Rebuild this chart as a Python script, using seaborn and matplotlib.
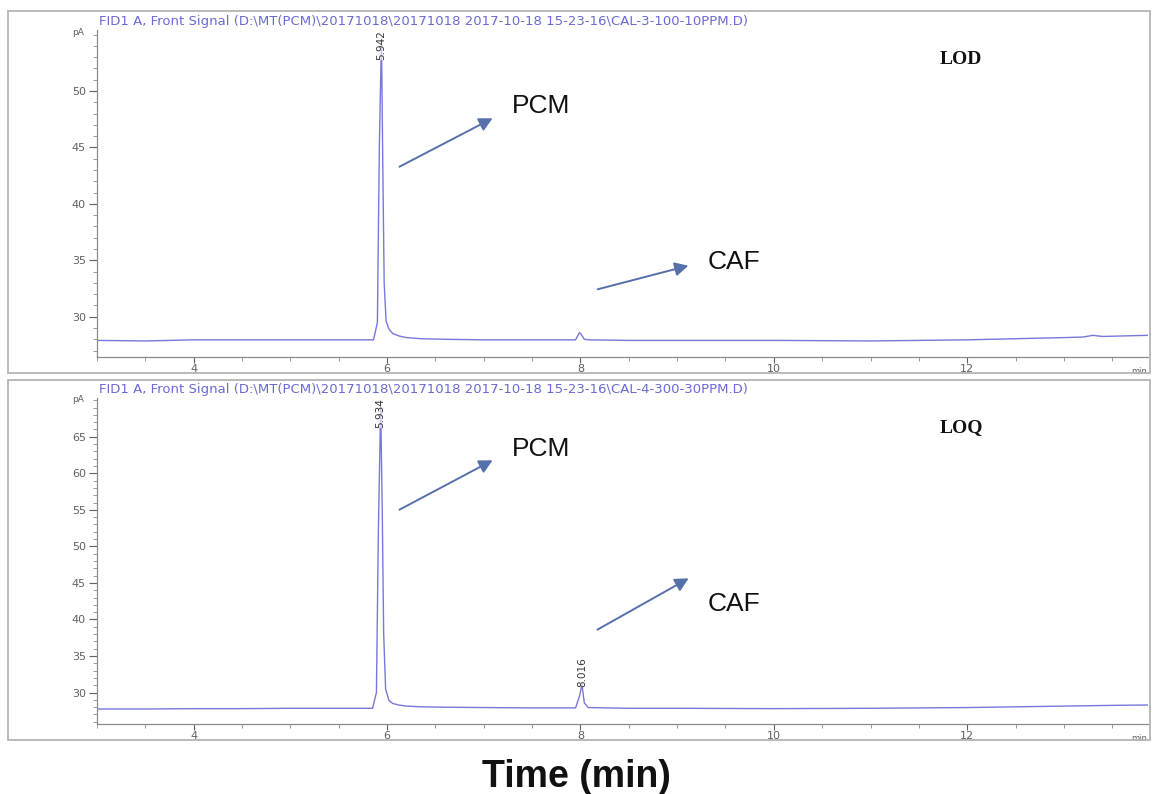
import matplotlib
matplotlib.use("Agg")
import matplotlib.pyplot as plt
from matplotlib.patches import Rectangle, FancyArrowPatch
from matplotlib.ticker import MultipleLocator
import seaborn as sns
import pandas as pd

sns.set_style("white")
plt.rcParams['font.family'] = ['Liberation Sans', 'DejaVu Sans']

# ---------------- data ----------------
lod_time = [3.0, 3.5, 4.0, 4.5, 5.0, 5.5, 5.86, 5.90, 5.92, 5.942, 5.955, 5.97, 5.99,
            6.02, 6.06, 6.12, 6.2, 6.35, 6.6, 7.0, 7.5, 7.95, 7.99, 8.01, 8.04, 8.08,
            8.5, 9.0, 10.0, 11.0, 11.5, 12.0, 12.5, 13.0, 13.2, 13.3, 13.4, 13.87]
lod_signal = [27.9, 27.85, 27.95, 27.95, 27.95, 27.95, 27.95, 29.5, 45.0, 54.6, 44.0, 33.0, 29.6,
              28.9, 28.5, 28.3, 28.15, 28.05, 28.0, 27.95, 27.95, 27.95, 28.6, 28.4, 28.0, 27.95,
              27.9, 27.9, 27.9, 27.85, 27.9, 27.95, 28.05, 28.15, 28.2, 28.35, 28.25, 28.35]

loq_time = [3.0, 3.5, 4.0, 4.5, 5.0, 5.5, 5.85, 5.89, 5.91, 5.934, 5.95, 5.965, 5.985,
            6.02, 6.06, 6.12, 6.2, 6.35, 6.6, 7.0, 7.5, 7.95, 7.99, 8.016, 8.04, 8.08,
            8.5, 9.0, 10.0, 11.0, 11.5, 12.0, 12.5, 13.0, 13.5, 13.87]
loq_signal = [27.75, 27.75, 27.8, 27.8, 27.85, 27.85, 27.85, 30.0, 52.0, 69.3, 55.0, 38.0, 30.5,
              28.9, 28.5, 28.3, 28.15, 28.05, 28.0, 27.95, 27.9, 27.9, 29.5, 31.1, 28.6, 27.95,
              27.85, 27.85, 27.8, 27.85, 27.9, 27.95, 28.05, 28.15, 28.25, 28.3]

lod_title = r"FID1 A, Front Signal (D:\MT(PCM)\20171018\20171018 2017-10-18 15-23-16\CAL-3-100-10PPM.D)"
loq_title = r"FID1 A, Front Signal (D:\MT(PCM)\20171018\20171018 2017-10-18 15-23-16\CAL-4-300-30PPM.D)"

lod_peaks = [5.942]
lod_peak_labels = ["5.942"]
loq_peaks = [5.934, 8.016]
loq_peak_labels = ["5.934", "8.016"]

x_ticks = [4, 6, 8, 10, 12]
lod_yticks = [30, 35, 40, 45, 50]
loq_yticks = [30, 35, 40, 45, 50, 55, 60, 65]

# ---------------- figure ----------------
W, H = 1153, 794
fig = plt.figure(figsize=(W / 100, H / 100), dpi=100)

def fx(px):
    return px / W

def fy(py):
    return 1 - py / H

line_color = "#7878dc"
title_color = "#6a6ad6"
tick_color = "#606060"

def panel(axrect, t, s, ylim, yticks, title, peaks, peak_labels, peak_y_top, frame):
    fx0, fy0, fx1, fy1 = frame
    fig.patches.append(Rectangle((fx(fx0), fy(fy1)), fx(fx1 - fx0), fy(fy0) - fy(fy1),
                                 transform=fig.transFigure, fill=False,
                                 edgecolor="#b4b4b4", linewidth=1.3))
    ax = fig.add_axes(axrect)
    df = pd.DataFrame({"time": t, "signal": s})
    sns.lineplot(data=df, x="time", y="signal", ax=ax, color=line_color,
                 linewidth=1.0, estimator=None, sort=False)
    ax.set_xlim(3.0, 13.87)
    ax.set_ylim(*ylim)
    ax.set_xlabel("")
    ax.set_ylabel("")
    ax.set_facecolor("none")
    for sp in ["top", "right"]:
        ax.spines[sp].set_visible(False)
    for sp in ["left", "bottom"]:
        ax.spines[sp].set_color("#8a8a8a")
        ax.spines[sp].set_linewidth(0.9)
    ax.set_xticks(x_ticks)
    ax.set_yticks(yticks)
    ax.xaxis.set_minor_locator(MultipleLocator(0.5))
    ax.yaxis.set_minor_locator(MultipleLocator(1))
    ax.tick_params(axis="y", which="major", direction="out", length=6, width=0.8,
                   colors=tick_color, labelsize=8, pad=2, left=True)
    ax.tick_params(axis="x", which="major", direction="out", length=4, width=0.8,
                   colors=tick_color, labelsize=8, pad=1, bottom=True)
    ax.tick_params(axis="both", which="minor", direction="out", length=3, width=0.6,
                   colors="#8a8a8a", bottom=True, left=True)
    for lab in ax.get_xticklabels() + ax.get_yticklabels():
        lab.set_family(["DejaVu Sans"])
    ax.text(-0.012, ylim[1] - 0.2, "pA", transform=ax.get_yaxis_transform(),
            ha="right", va="center", fontsize=6.5, color=tick_color, family=["DejaVu Sans"])
    ax.text(0.999, -0.03, "min", transform=ax.transAxes, ha="right", va="top",
            fontsize=6, color=tick_color, family=["DejaVu Sans"])
    ax.text(0.002, 1.005, title, transform=ax.transAxes, ha="left", va="bottom",
            fontsize=9.5, color=title_color, family=["DejaVu Sans"])
    for pk, lab, yt in zip(peaks, peak_labels, peak_y_top):
        ax.text(pk, yt, lab, rotation=90, ha="center", va="top", fontsize=7.5,
                color="#333333", family=["DejaVu Sans"],
                bbox=dict(facecolor="white", edgecolor="none", pad=0.1, alpha=0.6))
    return ax

ax1 = panel([fx(97), fy(357), fx(1148 - 97), fy(30) - fy(357)],
            lod_time, lod_signal, (26.43, 55.4), lod_yticks, lod_title,
            lod_peaks, lod_peak_labels, [55.4], (8, 11, 1150, 373))
ax2 = panel([fx(97), fy(724), fx(1148 - 97), fy(398) - fy(724)],
            loq_time, loq_signal, (25.7, 70.3), loq_yticks, loq_title,
            loq_peaks, loq_peak_labels, [70.3, 34.9], (8, 380, 1150, 740))

arrow_color = "#5570aa"

def arrow(x0, y0, x1, y1):
    fig.add_artist(FancyArrowPatch(
        (fx(x0), fy(y0)), (fx(x1), fy(y1)), transform=fig.transFigure,
        arrowstyle="-|>,head_length=5,head_width=2.6", color=arrow_color,
        linewidth=1.4, mutation_scale=1.6))

def label(x, y, s):
    fig.text(fx(x), fy(y), s, fontsize=19, color="#111111", ha="left", va="center")

label(512, 106, "PCM")
arrow(397, 168, 495, 117)
label(708, 262, "CAF")
arrow(595, 290, 691, 265)
label(512, 449, "PCM")
arrow(397, 511, 495, 459)
label(708, 604, "CAF")
arrow(595, 631, 691, 577)

fig.text(fx(940), fy(59), "LOD", fontsize=14, fontweight="bold",
         family=["Liberation Serif", "DejaVu Serif"], ha="left", va="center", color="#111111")
fig.text(fx(940), fy(428), "LOQ", fontsize=14, fontweight="bold",
         family=["Liberation Serif", "DejaVu Serif"], ha="left", va="center", color="#111111")

fig.text(fx(576), fy(777), "Time (min)", fontsize=27, fontweight="bold",
         ha="center", va="center", color="#111111")

fig.savefig("out.png", dpi=100)
